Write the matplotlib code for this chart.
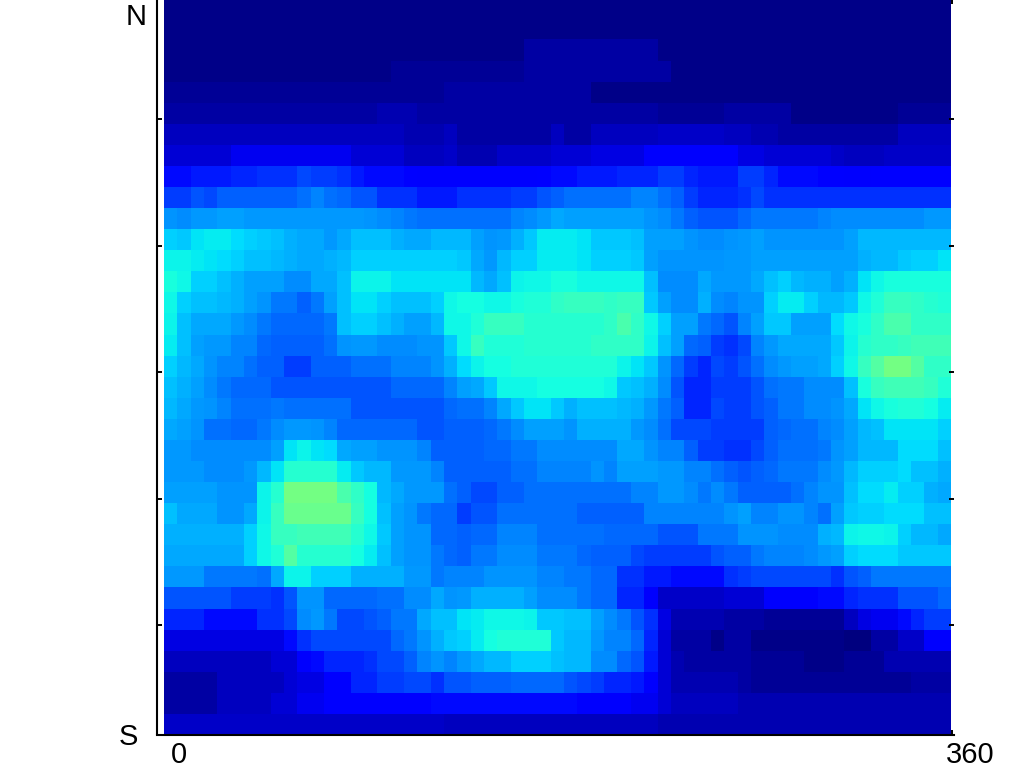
import numpy as np
import matplotlib
matplotlib.use("Agg")
import matplotlib.pyplot as plt
from matplotlib.colors import FuncNorm

plt.rcParams['font.family'] = ['Liberation Sans', 'DejaVu Sans']

cells = [
 [1,1,1,1,1,1,1,1,1,1,1,1,1,1,1,1,1,1,1,1,1, 1,1,1,1,1,1,1,1,1,1,1,1,1,1,1,1,1,1,1,1,1, 1,1,1,1,1,1,1,1,1,1,1,1,1,1,1,1,1],
 [1,1,1,1,1,1,1,1,1,1,1,1,1,1,1,1,1,1,1,1,1, 1,1,1,1,1,1,1,1,1,1,1,1,1,1,1,1,1,1,1,1,1, 1,1,1,1,1,1,1,1,1,1,1,1,1,1,1,1,1],
 [1,1,1,1,1,1,1,1,1,1,1,1,1,1,1,1,1,1,1,1,1, 1,1,1,1,1,1,3,3,3,3,3,3,3,3,3,3,1,1,1,1,1, 1,1,1,1,1,1,1,1,1,1,1,1,1,1,1,1,1],
 [1,1,1,1,1,1,1,1,1,1,1,1,1,1,1,1,1,2,2,2,2, 2,2,2,2,2,2,3,3,3,3,3,3,3,3,3,3,3,1,1,1,1, 1,1,1,1,1,1,1,1,1,1,1,1,1,1,1,1,1],
 [2,2,2,2,2,2,2,2,2,2,2,2,2,2,2,2,2,2,2,2,2, 3,3,3,3,3,3,3,3,3,3,3,1,1,1,1,1,1,1,1,1,1, 1,1,1,1,1,1,1,1,1,1,1,1,1,1,1,1,1],
 [3,3,3,3,3,3,3,3,3,3,3,3,3,3,3,3,4,4,4,3,3, 3,3,3,3,3,3,3,3,3,3,3,3,3,3,3,3,2,2,2,2,2, 3,3,3,3,3,1,1,1,1,1,1,1,1,2,2,2,2],
 [5,5,5,5,5,5,5,5,5,5,5,5,5,5,5,5,5,5,4,4,4, 5,3,3,3,3,3,3,3,5,3,3,5,5,5,5,5,6,6,6,6,6, 5,5,4,4,3,3,3,3,3,3,3,3,3,5,5,5,5],
 [7,7,7,7,7,9,9,9,9,9,9,9,9,9,7,7,7,7,5,5,5, 6,4,4,4,6,6,6,6,7,7,7,8,8,8,8,10,10,10,10,10,10, 10,8,8,7,7,7,7,7,6,5,5,5,6,6,6,6,6],
 [12,12,13,13,13,14,14,15,15,15,17,16,16,15,13,12,12,12,11,10,10, 10,10,10,10,10,10,10,11,12,12,13,13,13,14,14,14,16,16,14,13,13, 13,16,16,14,12,12,12,11,11,10,10,11,11,11,11,11,11],
 [16,16,18,17,19,19,19,19,19,19,21,23,21,20,18,18,15,15,15,13,13, 13,15,15,15,15,16,16,18,19,21,21,21,21,21,23,23,21,19,16,14,14, 14,15,17,15,15,15,15,15,15,15,15,15,15,15,15,15,15],
 [25,24,26,26,27,27,26,26,26,26,26,26,26,26,26,25,24,23,22,21,21, 21,21,21,21,21,23,24,26,28,27,27,27,27,27,27,25,24,22,19,18,18, 18,20,22,22,22,22,22,23,24,24,24,24,24,24,24,26,26],
 [33,32,35,36,36,34,33,32,31,29,28,28,26,28,31,31,31,29,28,28,30, 30,30,27,25,26,29,32,36,36,36,35,32,32,32,31,27,27,27,25,24,24, 25,26,27,25,25,25,25,25,25,27,30,30,30,30,30,30,30],
 [37,37,36,35,34,33,31,31,30,29,28,28,29,30,33,33,33,33,33,33,33, 33,32,28,26,30,33,33,36,36,36,35,33,33,33,32,27,25,25,25,25,25, 26,26,27,27,27,27,27,27,27,27,29,30,30,32,33,33,35],
 [40,38,33,33,31,29,27,27,27,24,24,28,28,31,37,37,37,35,35,35,35, 35,35,30,28,31,37,38,38,40,40,38,38,38,38,38,31,24,24,24,28,26, 26,26,28,31,33,30,29,29,27,29,35,38,40,40,40,40,40],
 [38,33,31,31,30,29,27,25,22,22,19,22,27,31,35,35,33,31,31,31,33, 38,39,39,38,38,40,41,41,43,44,44,44,43,44,44,32,27,24,24,29,24, 23,25,25,33,36,36,33,30,30,32,38,41,44,44,43,42,41],
 [37,31,28,28,28,26,24,22,20,20,20,20,22,31,33,33,31,29,27,27,30, 38,38,41,44,44,44,42,42,42,42,42,42,43,46,43,38,33,27,27,22,20, 18,23,27,32,32,27,27,27,34,38,40,43,46,46,43,43,43],
 [36,31,27,26,26,23,23,20,19,19,19,19,21,25,26,26,24,24,24,25,25, 32,38,44,41,41,41,42,42,42,42,42,43,43,43,43,37,31,27,20,19,16, 15,17,23,26,28,28,28,28,32,37,42,43,43,44,45,45,45],
 [33,30,28,25,23,23,21,19,19,16,16,19,19,19,21,21,21,23,23,23,25, 29,34,37,39,39,41,41,41,41,41,41,41,41,37,35,32,25,20,16,14,17, 16,18,21,24,26,27,27,28,33,38,44,47,50,50,47,43,43],
 [31,29,27,24,22,20,20,20,18,18,18,18,18,18,18,18,18,20,20,20,20, 23,27,28,32,38,38,38,39,39,39,39,39,38,32,31,29,24,18,14,14,16, 16,16,18,21,22,22,24,24,24,31,40,44,45,45,45,44,41],
 [30,28,26,25,23,21,21,21,22,21,21,21,21,21,18,18,18,18,18,18,18, 20,21,21,23,28,32,35,35,32,29,31,31,31,30,29,26,22,19,14,14,17, 16,16,18,19,22,22,24,24,25,28,35,38,40,41,41,39,36],
 [28,27,25,21,21,20,20,22,24,26,26,25,23,20,20,20,20,20,20,18,18, 19,19,19,20,22,24,27,27,27,25,29,29,29,29,26,24,21,17,17,17,16, 16,16,16,19,20,21,21,23,24,27,30,31,35,35,35,35,33],
 [26,26,24,24,24,24,24,24,27,35,37,35,34,28,27,27,25,25,25,23,19, 19,19,19,20,20,22,22,24,24,24,24,24,24,28,28,25,23,23,19,16,16, 15,15,17,19,21,21,21,22,25,27,30,30,30,34,34,34,31],
 [26,26,26,24,24,24,26,30,35,42,42,42,42,36,32,30,30,26,26,26,23, 19,19,19,19,19,21,21,23,23,23,23,25,23,27,27,27,26,26,23,23,21, 19,18,19,20,22,22,22,24,26,30,33,33,33,34,31,31,29],
 [27,27,27,27,25,25,25,37,42,50,50,50,50,46,43,39,30,28,26,26,26, 21,19,17,17,19,19,21,21,21,21,21,21,21,21,23,23,26,26,24,22,24, 22,19,19,19,19,21,23,25,25,31,34,34,36,33,33,29,28],
 [31,28,28,28,25,25,28,37,44,49,49,49,49,49,44,39,31,27,25,22,20, 20,16,18,18,21,21,21,21,21,21,19,19,19,19,19,23,23,23,23,23,23, 25,27,23,23,25,25,23,21,27,32,33,33,34,34,34,31,31],
 [29,29,29,29,29,29,33,38,44,44,45,45,45,45,42,38,32,27,25,25,20, 20,19,20,20,23,23,23,21,21,21,21,21,20,20,20,20,18,18,18,22,22, 22,25,25,25,24,24,24,29,30,37,38,38,37,33,30,30,28],
 [28,28,28,28,28,28,33,38,41,47,42,42,42,42,39,36,31,27,25,25,22, 20,19,22,22,24,24,24,22,22,22,20,19,19,19,17,16,16,16,16,16,18, 19,19,22,23,23,23,24,26,27,33,34,34,34,32,32,32,32],
 [26,26,26,22,22,22,22,21,28,37,37,33,33,33,29,29,29,29,26,26,22, 23,23,23,25,25,25,25,23,23,22,22,20,20,15,15,13,13,12,12,12,12, 15,16,17,17,17,17,17,17,15,18,19,22,22,22,22,22,22],
 [18,18,18,18,18,16,16,16,15,18,25,25,20,20,20,20,21,21,24,24,28, 25,26,29,29,29,29,27,24,24,24,22,20,20,14,14,10,6,6,6,6,6, 7,7,7,10,10,10,10,12,12,14,15,15,15,18,18,18,20],
 [14,14,14,12,12,12,12,15,15,17,24,26,22,17,17,18,19,22,22,28,31, 31,35,36,38,38,38,37,32,32,31,31,27,24,22,18,15,8,4,4,4,4, 3,3,3,2,2,2,2,2,2,5,8,9,9,12,14,16,16],
 [8,8,8,8,8,8,8,8,8,12,15,17,17,17,17,17,17,20,22,25,29, 32,33,36,39,41,41,41,41,32,30,30,26,23,23,20,14,7,3,3,3,1, 3,3,1,1,1,1,1,1,1,0,0,3,3,6,6,10,10],
 [5,5,5,5,5,5,5,5,7,7,10,12,14,14,14,15,17,17,19,23,25, 23,26,28,30,30,33,33,33,31,30,30,24,24,20,18,13,7,4,3,3,3, 3,3,2,2,2,2,1,1,1,2,2,2,4,4,4,4,4],
 [3,3,3,3,5,5,5,5,5,7,8,8,11,11,14,14,16,16,17,17,15, 18,18,19,19,19,20,20,20,20,18,17,16,14,14,13,10,7,4,4,4,4, 4,3,2,2,2,2,2,2,2,2,2,2,2,2,3,3,3],
 [3,3,3,3,5,5,5,5,7,7,9,9,11,11,11,11,11,11,11,11,12, 12,12,12,12,12,12,12,12,12,12,10,10,10,10,9,9,7,5,5,5,5, 5,4,4,4,4,4,4,4,4,4,4,4,4,4,4,4,4],
 [6,6,6,6,6,6,6,6,6,6,6,6,6,6,6,6,6,6,6,6,6, 5,5,5,5,5,5,5,5,5,5,5,5,5,5,5,5,4,4,4,4,4, 4,4,4,4,4,4,4,4,4,4,4,4,4,4,4,4,4],
]
lon_ticks = [0, 360]
row_ticks = [5.72, 11.74, 17.76, 23.78, 29.8]
lon_labels = ["0", "360"]

# my readings vs where those colours really sit on jet
read_levels = [0, 10, 15, 20, 25, 30, 35, 38, 42, 46, 50, 100]
jet_levels = [0, 11, 17.5, 23, 27, 30.5, 35, 37, 39.5, 44, 49, 100]

W, H = 1023, 767
fig = plt.figure(figsize=(W / 100, H / 100), dpi=100)
ax = fig.add_axes([157 / W, (H - 734.5) / H, 797 / W, 735.5 / H])

norm = FuncNorm((lambda v: np.interp(v, read_levels, jet_levels) / 100,
                 lambda v: np.interp(np.asarray(v) * 100, jet_levels, read_levels)), vmin=0, vmax=100)
ax.imshow(np.array(cells), cmap="jet", norm=norm, aspect="auto", interpolation="nearest",
          extent=[3.17, 359.1, len(cells) + 0.05, -0.03], zorder=1)
ax.set_xlim(0, 360.9)
ax.set_ylim(len(cells), 0)

ax.set_xticks(lon_ticks)
ax.set_yticks(row_ticks)
ax.set_xticklabels([])
ax.set_yticklabels([])
ax.tick_params(direction="in", length=3.6, width=1.4, top=True, right=True, bottom=True, left=True)
ax.spines["top"].set_visible(False)
ax.spines["right"].set_visible(False)
ax.spines["left"].set_linewidth(1.5)
ax.spines["bottom"].set_linewidth(1.5)

fs = 21
fig.text(136 / W, 1 - 17 / H, "N", fontsize=fs, ha="center", va="center")
fig.text(128 / W, 1 - 737 / H, "S", fontsize=fs, ha="center", va="center")
fig.text(179 / W, 1 - 755 / H, lon_labels[0], fontsize=fs, ha="center", va="center")
fig.text(970 / W, 1 - 755 / H, lon_labels[1], fontsize=fs, ha="center", va="center")

fig.savefig("out.png", dpi=100)
